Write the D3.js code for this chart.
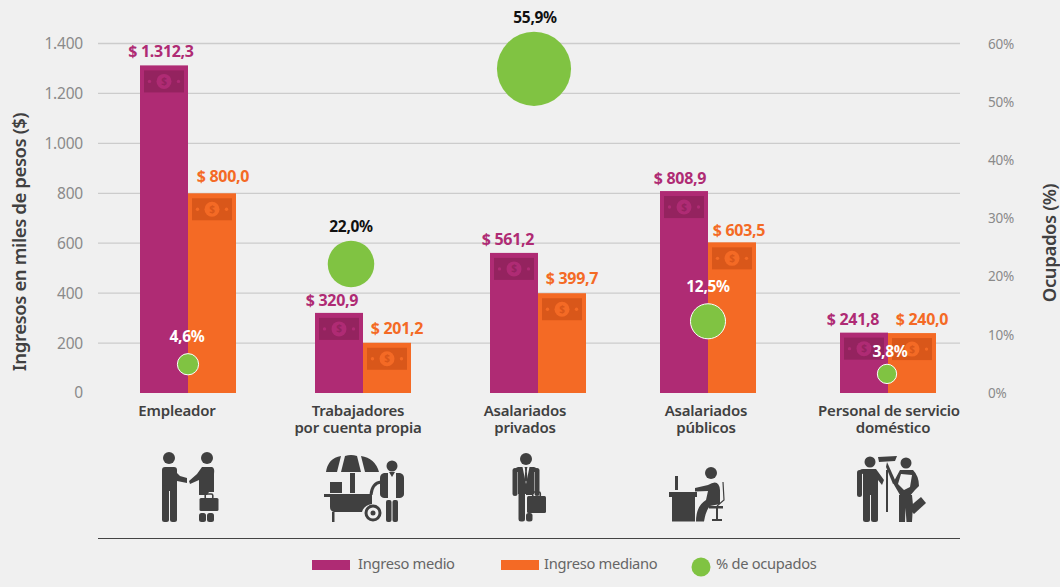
<!DOCTYPE html>
<html><head><meta charset="utf-8">
<script src="https://cdn.jsdelivr.net/npm/d3@7"></script>
<style>html,body{margin:0;padding:0;background:#f0f0f0}svg{display:block}text{font-family:"Noto Sans",sans-serif}</style>
</head><body><svg id="c" width="1060" height="587"></svg>
<script>
const categories=[["Empleador"],["Trabajadores","por cuenta propia"],["Asalariados","privados"],["Asalariados","públicos"],["Personal de servicio","doméstico"]];
const medio=[1312.3,320.9,561.2,808.9,241.8];
const mediano=[800.0,201.2,399.7,603.5,240.0];
const ocupados=[4.6,22.0,55.9,12.5,3.8];
const labelMedio=["$ 1.312,3","$ 320,9","$ 561,2","$ 808,9","$ 241,8"];
const labelMediano=["$ 800,0","$ 201,2","$ 399,7","$ 603,5","$ 240,0"];
const labelOcupados=["4,6%","22,0%","55,9%","12,5%","3,8%"];
const leftTicks=[0,200,400,600,800,1000,1200,1400];
const rightTicks=[0,10,20,30,40,50,60];
const legendNames=["Ingreso medio","Ingreso mediano","% de ocupados"];

const PURPLE="#af2b74",ORANGE="#f46a25",GREEN="#80c342",DARK="#404040",GREY="#8a8a8a",BG="#f0f0f0";
const svg=d3.select("#c");
const yL=d3.scaleLinear().domain([0,1400]).range([393,43.5]);
const yR=d3.scaleLinear().domain([0,60]).range([393,44]);
const r=d3.scaleSqrt().domain([0,60]).range([0,38.4]);
const idx=d3.range(categories.length);
const xC=d3.scaleOrdinal().domain(idx).range([188,363,538,708,888]);
const xBub=d3.scaleOrdinal().domain(idx).range([188,351,534,708,887]);
const bw=48;
const esL=v=>d3.format(",")(v).replace(/,/g,".");

// grid + axes
const gL=svg.append("g").attr("transform","translate(98,0)").call(d3.axisLeft(yL).tickValues(leftTicks).tickFormat(esL).tickSize(0).tickPadding(15));
gL.select(".domain").remove();
gL.selectAll("text").attr("fill",GREY).attr("font-size",15.5).attr("letter-spacing","-0.2");
svg.append("g").selectAll("line").data(leftTicks.filter(d=>d>0)).join("line")
 .attr("x1",98).attr("x2",960).attr("y1",d=>yL(d)).attr("y2",d=>yL(d)).attr("stroke","#cccccc").attr("stroke-width",1.3);
const gR=svg.append("g").attr("transform","translate(960,0)").call(d3.axisRight(yR).tickValues(rightTicks).tickFormat(d=>d+"%").tickSize(0).tickPadding(28));
gR.select(".domain").remove();
gR.selectAll("text").attr("fill",GREY).attr("font-size",13.5).attr("letter-spacing","-0.2");

// axis titles
svg.append("text").attr("transform","translate(26,242) rotate(-90)").attr("text-anchor","middle").attr("fill",DARK).attr("font-size",18.5).attr("font-weight",600).attr("letter-spacing","-0.4").text("Ingresos en miles de pesos ($)");
svg.append("text").attr("transform","translate(1056,243) rotate(-90)").attr("text-anchor","middle").attr("fill",DARK).attr("font-size",18.5).attr("font-weight",600).attr("letter-spacing","-0.4").text("Ocupados (%)");

// bars
function bars(vals,off,col,shade,labels,lx,ly){
 const g=svg.append("g");
 g.selectAll("rect").data(idx).join("rect").attr("x",i=>xC(i)+off).attr("width",bw).attr("y",i=>yL(vals[i])).attr("height",i=>393-yL(vals[i])).attr("fill",col);
 const n=g.selectAll("g.n").data(idx).join("g").attr("transform",i=>`translate(${xC(i)+off+bw/2},${yL(vals[i])+16})`);
 n.append("rect").attr("x",-20).attr("y",-11).attr("width",40).attr("height",22).attr("fill",shade);
 n.append("circle").attr("r",7.5).attr("fill",col);
 n.append("circle").attr("cx",-14.5).attr("r",1.7).attr("fill",col);
 n.append("circle").attr("cx",14.5).attr("r",1.7).attr("fill",col);
 n.append("text").attr("text-anchor","middle").attr("y",3.5).attr("font-size",10).attr("font-weight",700).attr("fill",shade).text("$");
 g.selectAll("text.l").data(idx).join("text").attr("class","l").attr("x",i=>xC(i)+off+bw/2+lx[i]).attr("y",i=>yL(vals[i])-8+ly[i]).attr("text-anchor","middle")
  .attr("fill",col).attr("font-size",16).attr("font-weight",700).attr("letter-spacing","-0.3").text(i=>labels[i]);
}
bars(medio,-bw,PURPLE,"#94235f",labelMedio,[-3,-7,-6,-4,-11],[0,1,0,1,0]);
bars(mediano,0,ORANGE,"#d9571a",labelMediano,[11,10,10,7,10],[-3,-1,-1,2,0]);

// bubbles
const bubDy=[-2,-1,1,1,3];
svg.append("g").selectAll("circle").data(idx).join("circle").attr("cx",i=>xBub(i)).attr("cy",i=>yR(ocupados[i])+bubDy[i]).attr("r",i=>r(ocupados[i])).attr("fill",GREEN).attr("stroke","#fff").attr("stroke-width",i=>(i==0||i>=3)?1:0);
const bubLabelDy=[-24,-33,-45,-28,-14];
const bubLabelDx=[-1,0,1,0,3];
const bubLabelCol=["#fff","#111","#111","#fff","#fff"];
svg.append("g").selectAll("text").data(idx).join("text").attr("x",i=>xBub(i)+bubLabelDx[i]).attr("y",i=>yR(ocupados[i])+bubLabelDy[i]).attr("text-anchor","middle")
 .attr("fill",i=>bubLabelCol[i]).attr("font-size",15.5).attr("font-weight",700).attr("letter-spacing","-0.3").text(i=>labelOcupados[i]);

// category labels
const catX=[177,358,525,706,889];
const cat=svg.append("g").selectAll("text").data(idx).join("text").attr("text-anchor","middle").attr("fill",DARK).attr("font-size",15).attr("font-weight",600).attr("letter-spacing","-0.2");
cat.each(function(i){const t=d3.select(this);categories[i].forEach((s,k)=>t.append("tspan").attr("x",catX[i]+(i==4&&k==1?4:0)).attr("y",416+k*17).text(s));});

// icons
const ic=svg.append("g").attr("fill",DARK).attr("stroke","none");
function bag(g,x,y,w,h){
 g.append("rect").attr("x",x).attr("y",y).attr("width",w).attr("height",h).attr("rx",1.5);
 g.append("rect").attr("x",x+w*0.3).attr("y",y-4).attr("width",w*0.4).attr("height",5).attr("rx",1.5).attr("fill","none").attr("stroke",DARK).attr("stroke-width",1.6);
}
// 1 Empleador
{const g=ic.append("g");
 g.append("circle").attr("cx",169).attr("cy",458).attr("r",6);
 g.append("rect").attr("x",162).attr("y",467).attr("width",15).attr("height",24).attr("rx",3);
 g.append("rect").attr("x",162).attr("y",485).attr("width",7).attr("height",37).attr("rx",2.5);
 g.append("rect").attr("x",170).attr("y",485).attr("width",7).attr("height",37).attr("rx",2.5);
 g.append("path").attr("d","M172 468L180 476L187 478L187 483L177 481L170 474Z");
 g.append("circle").attr("cx",207).attr("cy",458).attr("r",6);
 g.append("path").attr("d","M202 467L212 467Q215 468 214 474L214 492L209 492L207 495L199 495L199 480L190 484L189 481L197 474Z");
 g.append("rect").attr("x",199).attr("y",513).attr("width",7).attr("height",9).attr("rx",2.5);
 g.append("rect").attr("x",207).attr("y",513).attr("width",7).attr("height",9).attr("rx",2.5);
 bag(g,199.5,498,19,13);
}
// 2 Cart
{const g=ic.append("g");
 g.append("path").attr("d","M326 472Q328 458 341 456L337 472ZM341 472L345 456Q351 454 357 456L361 472ZM365 472L361 456Q375 458 379 472Z");
 g.append("rect").attr("x",350).attr("y",473).attr("width",5).attr("height",20);
 g.append("rect").attr("x",330).attr("y",482).attr("width",12).attr("height",11);
 g.append("rect").attr("x",324).attr("y",494).attr("width",48).attr("height",3);
 g.append("path").attr("d","M330 497L372 497L372 504Q364 505 362 512L334 512Q330 511 330 507Z");
 g.append("rect").attr("x",332).attr("y",512).attr("width",2.5).attr("height",10);
 g.append("path").attr("d","M371 495Q372 483 381 482").attr("fill","none").attr("stroke",DARK).attr("stroke-width",3);
 g.append("circle").attr("cx",373).attr("cy",513).attr("r",7).attr("fill",BG).attr("stroke",DARK).attr("stroke-width",3);
 g.append("circle").attr("cx",373).attr("cy",513).attr("r",2.5);
 g.append("circle").attr("cx",392).attr("cy",466).attr("r",5.5);
 g.append("path").attr("d","M384 473L388 473L388 498L384 498Q380 497 380 494L380 478Q380 474 384 473ZM396 473L400 473Q404 474 404 478L404 494Q404 497 400 498L396 498Z");
 g.append("path").attr("d","M389 472L392 477L395 472Z");
 g.append("rect").attr("x",386).attr("y",500).attr("width",5.5).attr("height",22).attr("rx",2);
 g.append("rect").attr("x",392.5).attr("y",500).attr("width",5.5).attr("height",22).attr("rx",2);
}
// 3 Suit
{const g=ic.append("g");
 g.append("circle").attr("cx",526).attr("cy",459).attr("r",6);
 g.append("rect").attr("x",512.5).attr("y",468).attr("width",5).attr("height",28).attr("rx",2.5);
 g.append("rect").attr("x",534.5).attr("y",468).attr("width",5).attr("height",28).attr("rx",2.5);
 g.append("rect").attr("x",518).attr("y",468).attr("width",16).attr("height",26);
 g.append("path").attr("d","M514 472Q514 468 518 467L534 467Q538 468 538 472Z");
 g.append("rect").attr("x",518.5).attr("y",490).attr("width",6.5).attr("height",31.5).attr("rx",2.5);
 g.append("rect").attr("x",526).attr("y",513).attr("width",6.5).attr("height",8.5).attr("rx",2.5);
 g.append("rect").attr("x",526).attr("y",490).attr("width",6.5).attr("height",5);
 g.append("path").attr("d","M522.5 467L524.5 467L526 472L527.5 467L529.5 467L526 484Z").attr("fill",BG);
 g.append("path").attr("d","M525 468L527 468L526.8 471L527.5 480L526 482L524.5 480L525.2 471Z");
 bag(g,527,496,19,17);
}
// 4 Desk
{const g=ic.append("g");
 g.append("circle").attr("cx",711).attr("cy",473).attr("r",6);
 g.append("rect").attr("x",675).attr("y",476).attr("width",3).attr("height",14);
 g.append("rect").attr("x",669).attr("y",492).attr("width",28).attr("height",5);
 g.append("rect").attr("x",672).attr("y",497).attr("width",23).attr("height",24.5);
 g.append("path").attr("d","M695 488L708 485Q719 478 720 490L720 504L710 506Q706 510 704 521.5L696 521.5Q696 506 706 500L708 491L695 491.5Z");
 g.append("path").attr("d","M723 482L724 500L717 506").attr("fill","none").attr("stroke",DARK).attr("stroke-width",1.2);
 g.append("rect").attr("x",716).attr("y",508).attr("width",2).attr("height",12);
 g.append("rect").attr("x",712).attr("y",519).attr("width",10).attr("height",2);
 g.append("rect").attr("x",709).attr("y",506).attr("width",14).attr("height",2.5);
}
// 5 Cleaning
{const g=ic.append("g");
 g.append("circle").attr("cx",870).attr("cy",462).attr("r",5.5);
 g.append("rect").attr("x",857).attr("y",470).attr("width",5).attr("height",27).attr("rx",2.5);
 g.append("path").attr("d","M859 473Q859 469 863 469L876 469L884 480L882 485L878 480L878 495L863 495L863 474Z");
 g.append("rect").attr("x",863).attr("y",490).attr("width",7).attr("height",32).attr("rx",2.5);
 g.append("rect").attr("x",871).attr("y",490).attr("width",7).attr("height",32).attr("rx",2.5);
 g.append("rect").attr("x",886).attr("y",470).attr("width",2).attr("height",42);
 g.append("path").attr("d","M878 457L897 456L895 461L879 462Z");
 g.append("path").attr("d","M887 462L896 482L893 484L886 467Z");
 g.append("circle").attr("cx",906).attr("cy",463).attr("r",5.5);
 g.append("path").attr("d","M900 470L913 470Q919 476 919 486L915 490L909 497L900 495L893 483ZM901 474L898 484L904 490L910 487L912 475Z").attr("fill-rule","evenodd");
 g.append("path").attr("d","M899 495L912 495L913 505L912 522L906.5 522L905.5 508L905 522L899 522Z");
 g.append("path").attr("d","M908 508L921 497L926 503L914 514Z");
}

// base line
svg.append("line").attr("x1",98).attr("x2",960).attr("y1",538.5).attr("y2",538.5).attr("stroke","#444").attr("stroke-width",1);

// legend
const leg=svg.append("g");
leg.append("rect").attr("x",312).attr("y",560).attr("width",38).attr("height",10).attr("fill",PURPLE);
leg.append("rect").attr("x",501).attr("y",560).attr("width",38).attr("height",10).attr("fill",ORANGE);
leg.append("circle").attr("cx",701).attr("cy",567).attr("r",9.5).attr("fill",GREEN);
leg.selectAll("text").data(legendNames).join("text").attr("x",(d,i)=>[358,544,716][i]).attr("y",569).attr("fill","#666").attr("font-size",14.7).attr("letter-spacing","-0.3").text(d=>d);
</script></body></html>
